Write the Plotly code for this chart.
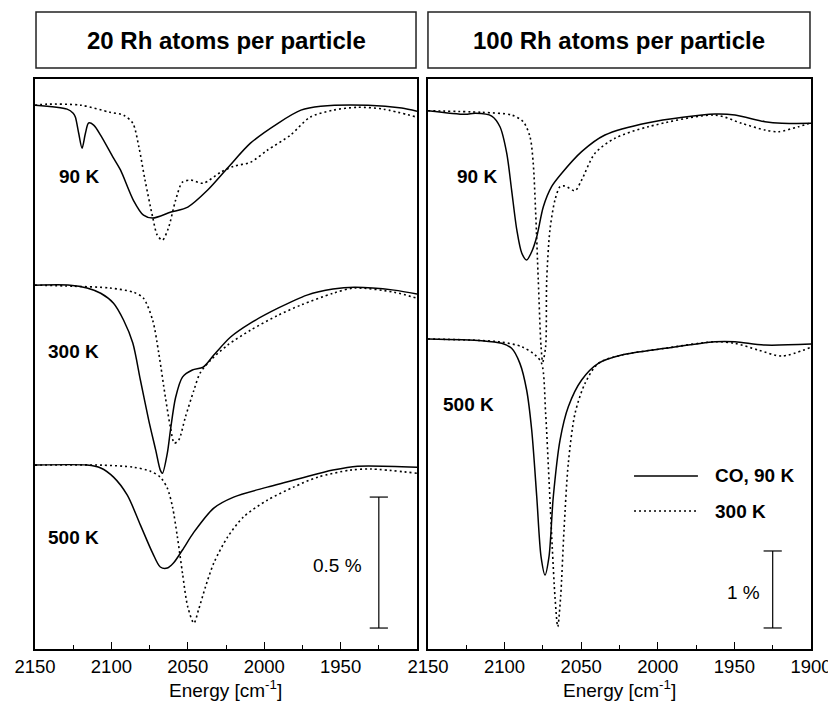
import plotly.graph_objects as go

# ---------------- Data (values in %, relative to each spectrum's baseline) ----------------
# Left panel: 20 Rh atoms per particle
L90_E_co = [2150, 2129, 2125, 2123.6, 2121.4, 2119.2, 2117, 2114.9, 2111.6, 2107, 2099, 2094,
            2085.6, 2079, 2073, 2061, 2050, 2037, 2024, 2009, 1991, 1976, 1963, 1932, 1910, 1900]
L90_co = [0, -0.015, -0.031, -0.045, -0.107, -0.164, -0.107, -0.068, -0.076, -0.115, -0.198, -0.248,
          -0.363, -0.420, -0.431, -0.408, -0.389, -0.324, -0.240, -0.145, -0.069, -0.019, -0.004, 0.0,
          -0.011, -0.023]
L90_E_an = [2150, 2142, 2120, 2101, 2092, 2086, 2082, 2078, 2073, 2070, 2066.6, 2062.7, 2058, 2053.5,
            2048, 2040, 2028.5, 2020, 2009, 1998, 1983, 1970, 1955, 1939, 1922, 1900]
L90_an = [0, 0.004, 0, -0.027, -0.038, -0.069, -0.160, -0.286, -0.427, -0.496, -0.515, -0.469, -0.363,
          -0.294, -0.286, -0.298, -0.256, -0.233, -0.218, -0.172, -0.115, -0.046, -0.019, -0.008,
          -0.015, -0.046]

L300_E_co = [2150, 2127, 2116, 2107, 2098.6, 2092, 2086, 2081, 2075.6, 2071, 2068, 2066.6, 2063.4,
             2061.4, 2058, 2053.5, 2047, 2040, 2033, 2022, 2009, 1991, 1972, 1955, 1941, 1915, 1900]
L300_co = [0, 0, -0.011, -0.031, -0.069, -0.134, -0.221, -0.363, -0.515, -0.630, -0.706, -0.718, -0.641,
           -0.555, -0.429, -0.351, -0.324, -0.313, -0.267, -0.198, -0.145, -0.088, -0.038, -0.015,
           -0.008, -0.019, -0.034]
L300_E_an = [2150, 2125, 2101, 2085.6, 2079, 2073, 2069, 2064.7, 2061.4, 2058.8, 2056, 2051.6, 2046,
             2042, 2035, 2024, 2009, 1991, 1976, 1955, 1941, 1915, 1900]
L300_an = [0, -0.004, -0.011, -0.027, -0.050, -0.134, -0.260, -0.427, -0.542, -0.603, -0.592, -0.504,
           -0.401, -0.336, -0.286, -0.229, -0.172, -0.115, -0.076, -0.031, -0.011, -0.027, -0.050]

L500_E_co = [2150, 2116, 2107, 2098.6, 2089.6, 2081, 2073, 2068, 2063.4, 2059.4, 2053.5, 2046, 2033,
             2020, 1998, 1976, 1955, 1939, 1900]
L500_co = [0, 0, -0.011, -0.046, -0.115, -0.229, -0.336, -0.389, -0.393, -0.374, -0.324, -0.256, -0.164,
           -0.122, -0.084, -0.050, -0.019, -0.004, -0.008]
L500_E_an = [2150, 2107, 2085.6, 2074.5, 2068, 2063.4, 2060, 2056.8, 2053.5, 2050, 2046, 2043, 2038.5,
             2033, 2024, 2013.6, 1998, 1980.8, 1965, 1943.5, 1930, 1900]
L500_an = [0, 0, -0.008, -0.023, -0.046, -0.088, -0.160, -0.275, -0.412, -0.542, -0.603, -0.553, -0.466,
           -0.374, -0.275, -0.198, -0.134, -0.084, -0.046, -0.019, -0.015, -0.031]

# Right panel: 100 Rh atoms per particle
R90_E_co = [2150, 2125.8, 2119, 2108.4, 2103, 2098.6, 2095.4, 2092, 2088.8, 2085.6, 2082.3, 2079,
            2074.7, 2069.3, 2062.7, 2049.7, 2034.5, 2006.2, 1962.7, 1949.6, 1930, 1919, 1900]
R90_co = [0, -0.047, -0.034, -0.069, -0.208, -0.550, -1.030, -1.549, -1.848, -1.939, -1.831, -1.636,
          -1.247, -0.987, -0.813, -0.532, -0.316, -0.156, -0.043, -0.056, -0.143, -0.164, -0.164]
R90_E_an = [2150, 2115, 2095.4, 2087.8, 2083.4, 2081.3, 2079.7, 2078, 2076.2, 2075.1, 2073.2, 2072.5,
            2070.4, 2067.1, 2063.8, 2060.6, 2054, 2049.7, 2041, 2028, 2006.2, 1962.7, 1945.2, 1930,
            1921.3, 1908.3, 1900]
R90_an = [0, -0.021, -0.056, -0.143, -0.338, -0.683, -1.329, -2.198, -3.065, -3.264, -3.065, -2.198,
          -1.549, -1.160, -0.987, -0.978, -1.039, -0.900, -0.553, -0.358, -0.208, -0.056, -0.164,
          -0.251, -0.273, -0.208, -0.156]

R500_E_co = [2150, 2115, 2101.9, 2095.4, 2090, 2085.6, 2082.3, 2079, 2076.2, 2073.6, 2071, 2068.2,
             2063.8, 2058.4, 2049.7, 2038.8, 2023.6, 1995.3, 1962.7, 1949.6, 1930, 1900]
R500_co = [0, -0.022, -0.056, -0.121, -0.316, -0.662, -1.182, -2.048, -2.827, -3.065, -2.827, -2.048,
           -1.312, -0.879, -0.532, -0.316, -0.208, -0.121, -0.035, -0.035, -0.078, -0.065]
R500_E_an = [2150, 2104, 2088.8, 2080, 2075.8, 2073.2, 2071, 2068.9, 2067.1, 2065.3, 2063.4, 2061.2,
             2058.4, 2054, 2047.5, 2038.8, 2023.6, 1995.3, 1962.7, 1949.6, 1934.4, 1919, 1900]
R500_an = [0, -0.035, -0.100, -0.208, -0.316, -0.965, -1.831, -2.697, -3.346, -3.736, -3.346, -2.480,
           -1.614, -0.965, -0.576, -0.316, -0.208, -0.121, -0.035, -0.056, -0.143, -0.221, -0.108]

# Vertical offsets of the stacked spectra (in %)
OFFSETS_LEFT = [2.076, 1.389, 0.702]   # 90 K, 300 K, 500 K
OFFSETS_RIGHT = [6.991, 4.026]         # 90 K, 500 K
TEMP_LABELS_LEFT = ["90 K", "300 K", "500 K"]
TEMP_LABELS_RIGHT = ["90 K", "500 K"]

# Scale bars
SCALE_LEFT = 0.5     # %
SCALE_RIGHT = 1.0    # %
SCALE_BASE_LEFT = 0.08
SCALE_BASE_RIGHT = 0.273
SCALE_X = 1925

TICKS_LEFT = [2150, 2100, 2050, 2000, 1950]
TICKS_RIGHT = [2150, 2100, 2050, 2000, 1950, 1900]
MINOR_TICKS = [2125, 2075, 2025, 1975, 1925]

TITLES = ["20 Rh atoms per particle", "100 Rh atoms per particle"]
LEGEND_NAMES = ["CO, 90 K", "300 K"]

FONT = "Liberation Sans, Arial, sans-serif"
DOT = "2px,3px"

fig = go.Figure()


def add_spec(E, vals, off, xa, ya, dotted):
    fig.add_trace(go.Scatter(
        x=E, y=[off + v for v in vals], mode="lines", xaxis=xa, yaxis=ya,
        line=dict(color="black", width=1.5 if not dotted else 1.6,
                  dash=DOT if dotted else "solid", shape="spline", smoothing=0.8),
        showlegend=False, hoverinfo="skip"))


left_sets = [(L90_E_co, L90_co, L90_E_an, L90_an),
             (L300_E_co, L300_co, L300_E_an, L300_an),
             (L500_E_co, L500_co, L500_E_an, L500_an)]
for (ec, vc, ea, va), off in zip(left_sets, OFFSETS_LEFT):
    add_spec(ea, va, off, "x", "y", True)
    add_spec(ec, vc, off, "x", "y", False)

right_sets = [(R90_E_co, R90_co, R90_E_an, R90_an),
              (R500_E_co, R500_co, R500_E_an, R500_an)]
for (ec, vc, ea, va), off in zip(right_sets, OFFSETS_RIGHT):
    add_spec(ea, va, off, "x2", "y2", True)
    add_spec(ec, vc, off, "x2", "y2", False)

# scale bars
for xa, ya, base, size in [("x", "y", SCALE_BASE_LEFT, SCALE_LEFT),
                           ("x2", "y2", SCALE_BASE_RIGHT, SCALE_RIGHT)]:
    fig.add_trace(go.Scatter(
        x=[SCALE_X, SCALE_X], y=[base, base + size], mode="lines+markers",
        xaxis=xa, yaxis=ya, line=dict(color="black", width=1.2),
        marker=dict(symbol="line-ew", size=13, line=dict(color="black", width=1.2)),
        showlegend=False, hoverinfo="skip"))

axis_common = dict(showline=True, linecolor="black", linewidth=1.5, mirror=True,
                   showgrid=False, zeroline=False)
xcommon = dict(axis_common, range=[2150, 1900], ticks="inside", ticklen=7, tickwidth=1.2,
               tickcolor="black", tickfont=dict(family=FONT, size=18.5, color="black"),
               minor=dict(tickvals=MINOR_TICKS, ticks="inside", ticklen=4, tickwidth=1.2,
                          tickcolor="black"))

# The page body has an 8px margin: the figure is sized so that it fills the 836x702 window.
fig.update_layout(
    width=828, height=694,
    margin=dict(l=27, r=25, t=71, b=53, autoexpand=False),
    paper_bgcolor="white", plot_bgcolor="white",
    showlegend=False,
    xaxis=dict(xcommon, domain=[0, 0.4923], tickvals=TICKS_LEFT,
               ticktext=[str(t) for t in TICKS_LEFT], anchor="y"),
    xaxis2=dict(xcommon, domain=[0.5064, 1.0], tickvals=TICKS_RIGHT,
                ticktext=[str(t) for t in TICKS_RIGHT], anchor="y2"),
    yaxis=dict(axis_common, range=[0, 2.176], showticklabels=False, ticks="", anchor="x"),
    yaxis2=dict(axis_common, range=[0, 7.403], showticklabels=False, ticks="", anchor="x2"),
)

annotations = []
shapes = []

# panel title boxes
for (x0, x1), title in zip([(0.0013, 0.491), (0.5064, 0.9987)], TITLES):
    shapes.append(dict(type="rect", xref="paper", yref="paper", x0=x0, x1=x1,
                       y0=1.0193, y1=1.1175, line=dict(color="#222", width=1.5)))
    annotations.append(dict(xref="paper", yref="paper", x=(x0 + x1) / 2, y=1.0684,
                            text="<b>%s</b>" % title, showarrow=False, xanchor="center",
                            yanchor="middle", font=dict(family=FONT, size=24, color="black")))

# x-axis titles
for xc in [0.246, 0.7526]:
    annotations.append(dict(xref="paper", yref="paper", x=xc, y=-0.0705,
                            text="Energy [cm<sup>-1</sup>]", showarrow=False,
                            xanchor="center", yanchor="middle",
                            font=dict(family=FONT, size=19, color="black")))

# temperature labels
for lab, (xx, yy) in zip(TEMP_LABELS_LEFT, [(2121, 1.805), (2124.6, 1.134), (2124.6, 0.427)]):
    annotations.append(dict(xref="x", yref="y", x=xx, y=yy, text="<b>%s</b>" % lab,
                            showarrow=False, font=dict(family=FONT, size=19, color="black")))
for lab, (xx, yy) in zip(TEMP_LABELS_RIGHT, [(2118, 6.143), (2123.6, 3.182)]):
    annotations.append(dict(xref="x2", yref="y2", x=xx, y=yy, text="<b>%s</b>" % lab,
                            showarrow=False, font=dict(family=FONT, size=19, color="black")))

# scale labels
annotations.append(dict(xref="x", yref="y", x=1935, y=0.317, text="0.5 %", showarrow=False,
                        xanchor="right", font=dict(family=FONT, size=19, color="black")))
annotations.append(dict(xref="x2", yref="y2", x=1932, y=0.740, text="1 %", showarrow=False,
                        xanchor="right", font=dict(family=FONT, size=19, color="black")))

# legend (right panel)
for (yy, dash), name in zip([(2.247, "solid"), (1.792, DOT)], LEGEND_NAMES):
    shapes.append(dict(type="line", xref="x2", yref="y2", x0=2015.5, x1=1973.8, y0=yy, y1=yy,
                       line=dict(color="black", width=1.5, dash=dash)))
    annotations.append(dict(xref="x2", yref="y2", x=1964, y=yy, text="<b>%s</b>" % name,
                            showarrow=False, xanchor="left",
                            font=dict(family=FONT, size=19, color="black")))

fig.update_layout(annotations=annotations, shapes=shapes)
fig.write_html("out.html")
